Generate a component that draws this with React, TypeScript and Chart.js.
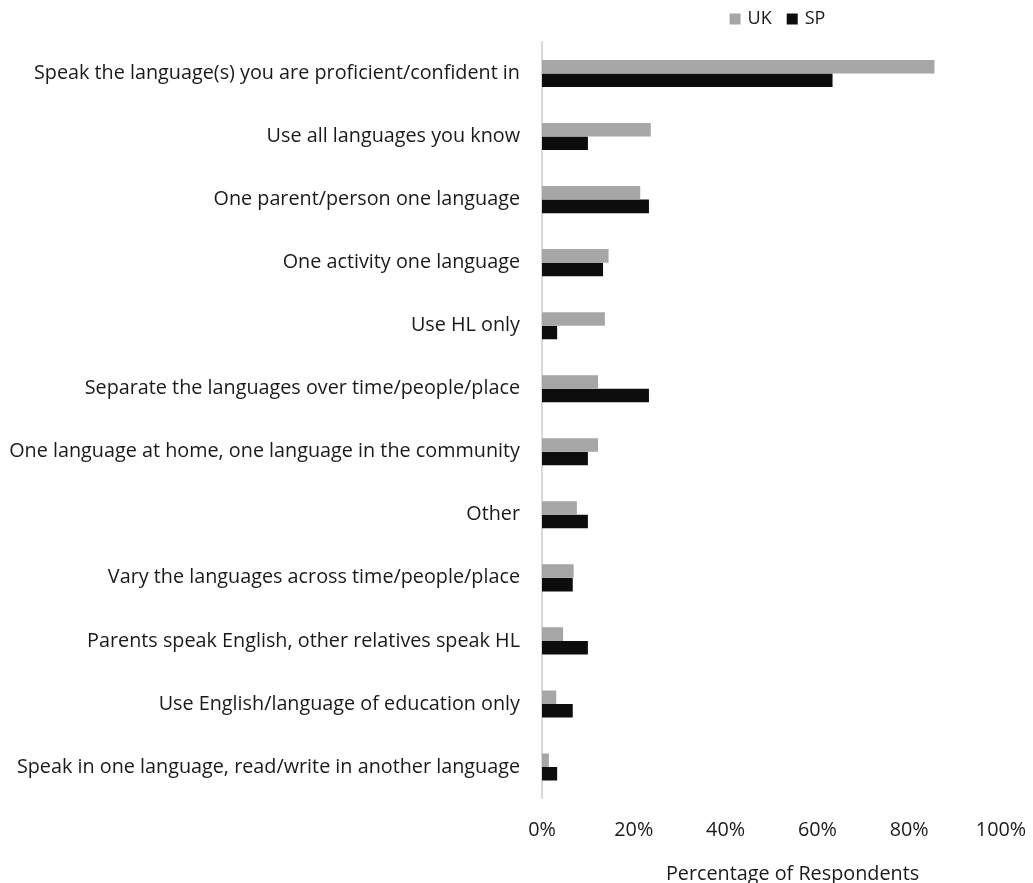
import React, { useEffect, useRef } from "react";
import { Chart, registerables } from "chart.js";

Chart.register(...registerables);

const categories: string[] = [
  "Speak the language(s) you are proficient/confident in",
  "Use all languages you know",
  "One parent/person one language",
  "One activity one language",
  "Use HL only",
  "Separate the languages over time/people/place",
  "One language at home, one language in the community",
  "Other",
  "Vary the languages across time/people/place",
  "Parents speak English, other relatives speak HL",
  "Use English/language of education only",
  "Speak in one language, read/write in another language",
];

const ukValues: number[] = [85.5, 23.7, 21.4, 14.5, 13.7, 12.2, 12.2, 7.6, 6.9, 4.6, 3.1, 1.5];
const spValues: number[] = [63.3, 10.0, 23.3, 13.3, 3.3, 23.3, 10.0, 10.0, 6.7, 10.0, 6.7, 3.3];

const xTicks: number[] = [0, 20, 40, 60, 80, 100];
const seriesNames: string[] = ["UK", "SP"];
const xTitle = "Percentage of Respondents";

const FONT = "'Open Sans', Lato, sans-serif";
const TEXT = "#1a1a1a";
const FSIZE = 19.8;
const LEGEND_FSIZE = 18;

const customLegend = {
  id: "customLegend",
  afterDraw(chart: any) {
    const ctx = chart.ctx;
    const area = chart.chartArea;
    ctx.save();
    ctx.font = `${LEGEND_FSIZE}px ${FONT}`;
    ctx.textBaseline = "middle";
    ctx.textAlign = "left";
    const box = 11;
    const gapBoxText = 7;
    const gapItems = 15;
    const items = chart.data.datasets.map((d: any) => ({
      label: d.label,
      color: d.backgroundColor,
      w: box + gapBoxText + ctx.measureText(d.label).width,
    }));
    const total = items.reduce((s: number, it: any) => s + it.w, 0) + gapItems * (items.length - 1);
    let x = (area.left + area.right) / 2 + 6 - total / 2;
    const y = 19;
    for (const it of items) {
      ctx.fillStyle = it.color;
      ctx.fillRect(x, y - box / 2, box, box);
      ctx.fillStyle = TEXT;
      ctx.fillText(it.label, x + box + gapBoxText, y);
      x += it.w + gapItems;
    }
    // x-axis title
    ctx.font = `${FSIZE}px ${FONT}`;
    ctx.textAlign = "center";
    ctx.fillText(xTitle, (area.left + area.right) / 2 + 21, area.bottom + 76);
    ctx.restore();
  },
};

export default function App() {
  const ref = useRef<HTMLCanvasElement | null>(null);
  useEffect(() => {
    if (!ref.current) return;
    const chart = new Chart(ref.current, {
      type: "bar",
      data: {
        labels: categories,
        datasets: [
          {
            label: seriesNames[0],
            data: ukValues,
            backgroundColor: "#a6a6a6",
            categoryPercentage: 0.43,
            barPercentage: 1.0,
          },
          {
            label: seriesNames[1],
            data: spValues,
            backgroundColor: "#0d0d0d",
            categoryPercentage: 0.43,
            barPercentage: 1.0,
          },
        ],
      },
      options: {
        indexAxis: "y",
        animation: false,
        responsive: true,
        maintainAspectRatio: false,
        layout: { padding: { top: 42, right: 32, left: 0, bottom: 0 } },
        plugins: {
          legend: { display: false },
          tooltip: { enabled: false },
        },
        scales: {
          x: {
            min: 0,
            max: 100,
            afterBuildTicks: (scale: any) => {
              scale.ticks = xTicks.map((v) => ({ value: v }));
            },
            ticks: {
              callback: (v: any) => v + "%",
              font: { family: FONT, size: FSIZE },
              color: TEXT,
              padding: 12,
              maxRotation: 0,
            },
            grid: { display: false },
            border: { display: false },
            title: { display: false },
            afterFit: (scale: any) => {
              scale.height = 84.5;
              scale.paddingRight = 0;
              scale.paddingLeft = 0;
            },
          },
          y: {
            ticks: {
              font: { family: FONT, size: FSIZE },
              color: TEXT,
              padding: 14,
              autoSkip: false,
            },
            grid: { display: false },
            border: { display: true, color: "#d9d9d9", width: 2 },
            afterFit: (scale: any) => {
              scale.width = 542;
            },
          },
        },
      },
      plugins: [customLegend],
    });
    return () => chart.destroy();
  }, []);
  return (
    <div style={{ position: "fixed", left: 0, top: 0, width: 1033, height: 883, background: "#fff" }}>
      <canvas ref={ref} />
    </div>
  );
}
